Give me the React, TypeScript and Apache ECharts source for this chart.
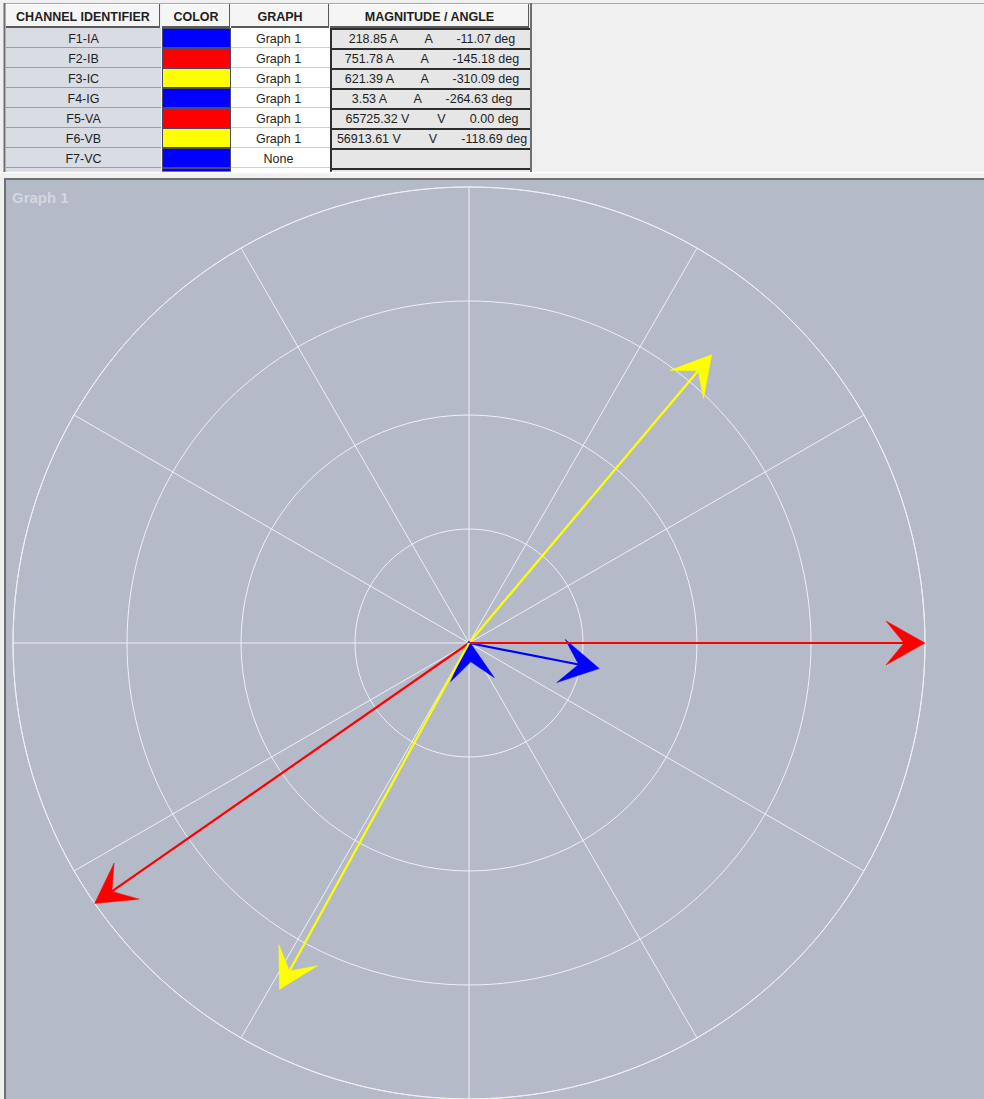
import React, { useEffect, useRef } from 'react';
import * as echarts from 'echarts';

// ---- data ----
const headers = ['CHANNEL IDENTIFIER', 'COLOR', 'GRAPH', 'MAGNITUDE / ANGLE'];
const channels = ['F1-IA', 'F2-IB', 'F3-IC', 'F4-IG', 'F5-VA', 'F6-VB', 'F7-VC'];
const channelColors = ['#0000FF', '#FF0000', '#FFFF00', '#0000FF', '#FF0000', '#FFFF00', '#0000FF'];
const graphNames = ['Graph 1', 'Graph 1', 'Graph 1', 'Graph 1', 'Graph 1', 'Graph 1', 'None'];
const magnitudes: (number | null)[] = [218.85, 751.78, 621.39, 3.53, 65725.32, 56913.61, null];
const units = ['A', 'A', 'A', 'A', 'V', 'V', ''];
const anglesDeg: (number | null)[] = [-11.07, -145.18, -310.09, -264.63, 0.0, -118.69, null];
const graphTitle = 'Graph 1';
const ringCount = 4;
const spokeStep = 30;

// ---- layout constants ----
const W = 984;
const H = 1099;
const PLOT_BG = '#B4BAC8';
const PANEL_BG = '#F0F0F0';
const GRID = '#EEF0F4';
const CX = 469;
const CY = 643;
const R = 456;

function buildGraphics() {
  const g: any[] = [];
  const rect = (x: number, y: number, w: number, h: number, fill: string) =>
    g.push({ type: 'rect', silent: true, shape: { x, y, width: w, height: h }, style: { fill } });
  const line = (x1: number, y1: number, x2: number, y2: number, stroke: string, lw = 1) =>
    g.push({ type: 'line', silent: true, shape: { x1, y1, x2, y2 }, style: { stroke, lineWidth: lw } });
  const text = (x: number, y: number, t: string, font: string, fill = '#1E1E1E', align = 'center') =>
    g.push({
      type: 'text', silent: true, x, y,
      style: { text: t, font, fill, textAlign: align, textVerticalAlign: 'middle' },
    });

  // top panel background
  rect(0, 0, W, 178, PANEL_BG);
  rect(0, 178, 5, H - 178, PANEL_BG);

  const colX = [6, 162, 231, 330];
  const colW = [155, 69, 99, 200];
  const headY = 4;
  const headH = 24;
  const rowY0 = 28;
  const rowH = 20;
  const tableBottom = 172;

  // header cells
  headers.forEach((h, i) => {
    rect(colX[i], headY, colW[i] - 1, headH, '#F5F5F5');
    line(colX[i], headY + 0.5, colX[i] + colW[i] - 1, headY + 0.5, '#FFFFFF');
    line(colX[i], headY + headH - 1, colX[i] + colW[i] - 1, headY + headH - 1, '#5A5A5A', 2);
    line(colX[i] + colW[i] - 1.5, headY, colX[i] + colW[i] - 1.5, headY + headH, '#5A5A5A', 1);
    text(colX[i] + (colW[i] - 1) / 2, headY + headH / 2 + 0.5, h, 'bold 12.5px "Liberation Sans", Arial, sans-serif');
  });

  // rows (plus a partially visible next row)
  const nRows = channels.length + 1;
  for (let r = 0; r < nRows; r++) {
    const y = rowY0 + r * rowH;
    const real = r < channels.length;
    const hh = real ? rowH : tableBottom - y;
    const col = real ? channelColors[r] : '#0000FF';
    // col1
    rect(colX[0], y, colW[0], hh, '#D9DDE3');
    if (real) line(colX[0], y + rowH - 0.5, colX[0] + colW[0], y + rowH - 0.5, '#9C9C9C');
    // col2 swatch
    rect(colX[1], y, colW[1], hh, '#4A4A6A');
    rect(colX[1] + 1, y + 1, colW[1] - 2, Math.max(hh - 2, 1), col);
    // col3
    rect(colX[2], y, colW[2], hh, '#FFFFFF');
    if (real) line(colX[2], y + rowH - 0.5, colX[2] + colW[2], y + rowH - 0.5, '#D0D0D0');
    // col4
    rect(colX[3], y, colW[3], hh, '#E6E6E6');
    line(colX[3], y + 1, colX[3] + colW[3], y + 1, '#2E2E2E', 2);
    line(colX[3] + 1, y, colX[3] + 1, y + hh, '#2E2E2E', 2);

    if (real) {
      const ty = y + rowH / 2 + 1;
      const f = '12.5px "Liberation Sans", Arial, sans-serif';
      text(colX[0] + colW[0] / 2, ty, channels[r], f);
      text(colX[2] + colW[2] / 2 - 2, ty, graphNames[r], f);
      const m = magnitudes[r];
      const a = anglesDeg[r];
      if (graphNames[r] !== 'None' && m != null && a != null) {
        const s = `${m.toFixed(2)} ${units[r]}        ${units[r]}       ${a.toFixed(2)} deg`;
        text(colX[3] + 102, ty, s, f);
      }
    }
  }
  // clip anything beyond the table, and below it
  rect(531, 4, W - 531, 170, PANEL_BG);
  rect(0, tableBottom, W, 6, PANEL_BG);
  line(0, tableBottom + 0.5, W, tableBottom + 0.5, '#FFFFFF', 1.5);
  // table borders
  line(4, 3.5, W, 3.5, '#A8A8A8', 1);
  line(4.5, 3, 4.5, tableBottom, '#6E6E6E', 2);
  line(531, 3, 531, tableBottom, '#6E6E6E', 2);

  // graph panel borders
  line(4, 179, W, 179, '#707070', 2);
  line(5, 178, 5, H, '#707070', 2);
  text(12, 197, graphTitle, 'bold 15px "Liberation Sans", Arial, sans-serif', '#D3D7DF', 'left');
  return g;
}

function buildPhasors() {
  const maxByUnit: Record<string, number> = {};
  channels.forEach((_, i) => {
    const m = magnitudes[i];
    if (graphNames[i] === 'None' || m == null) return;
    maxByUnit[units[i]] = Math.max(maxByUnit[units[i]] || 0, m);
  });
  const out: any[] = [];
  channels.forEach((name, i) => {
    const m = magnitudes[i];
    const a = anglesDeg[i];
    if (graphNames[i] === 'None' || m == null || a == null) return;
    const r = (m / maxByUnit[units[i]]) * ringCount;
    const ang = ((a % 360) + 360) % 360;
    out.push({ name, value: [r, ang], itemStyle: { color: channelColors[i] } });
  });
  return out;
}

export default function App() {
  const ref = useRef<HTMLDivElement>(null);
  useEffect(() => {
    document.body.style.margin = '0';
    const chart = echarts.init(ref.current!, null, { renderer: 'svg', width: W, height: H });
    const option: any = {
      animation: false,
      backgroundColor: PLOT_BG,
      polar: { center: [CX, CY], radius: R },
      angleAxis: {
        type: 'value', min: 0, max: 360, interval: spokeStep, startAngle: 0, clockwise: false,
        axisLine: { show: true, lineStyle: { color: GRID, width: 1 } },
        axisTick: { show: false }, axisLabel: { show: false },
        splitLine: { show: true, lineStyle: { color: GRID, width: 1 } },
      },
      radiusAxis: {
        type: 'value', min: 0, max: ringCount, interval: 1,
        axisLine: { show: false }, axisTick: { show: false }, axisLabel: { show: false },
        splitLine: { show: true, lineStyle: { color: GRID, width: 1 } },
      },
      series: [
        {
          type: 'custom',
          coordinateSystem: 'polar',
          dimensions: ['r', 'a'],
          encode: { radius: 0, angle: 1 },
          data: buildPhasors(),
          renderItem: (params: any, api: any) => {
            const r = api.value(0);
            const a = api.value(1);
            const c = api.coord([0, a]);
            const p = api.coord([r, a]);
            const far = api.coord([ringCount, a]);
            const color = api.visual('color');
            const dx = far[0] - c[0];
            const dy = far[1] - c[1];
            const len = Math.hypot(dx, dy) || 1;
            const ux = dx / len;
            const uy = dy / len;
            const nx = -uy;
            const ny = ux;
            const L = 39, HW = 22, N = 21;
            const b1 = [p[0] - L * ux + HW * nx, p[1] - L * uy + HW * ny];
            const b2 = [p[0] - L * ux - HW * nx, p[1] - L * uy - HW * ny];
            const nt = [p[0] - N * ux, p[1] - N * uy];
            return {
              type: 'group',
              children: [
                {
                  type: 'line',
                  shape: { x1: c[0], y1: c[1], x2: nt[0], y2: nt[1] },
                  style: { stroke: color, lineWidth: 2.2 },
                },
                {
                  type: 'polygon',
                  shape: { points: [p, b1, nt, b2] },
                  style: { fill: color, stroke: color, lineWidth: 0.5 },
                },
              ],
            };
          },
        },
      ],
      graphic: { elements: buildGraphics() },
    };
    chart.setOption(option);
    return () => chart.dispose();
  }, []);
  return <div ref={ref} style={{ position: 'absolute', left: 0, top: 0, width: W, height: H }} />;
}
